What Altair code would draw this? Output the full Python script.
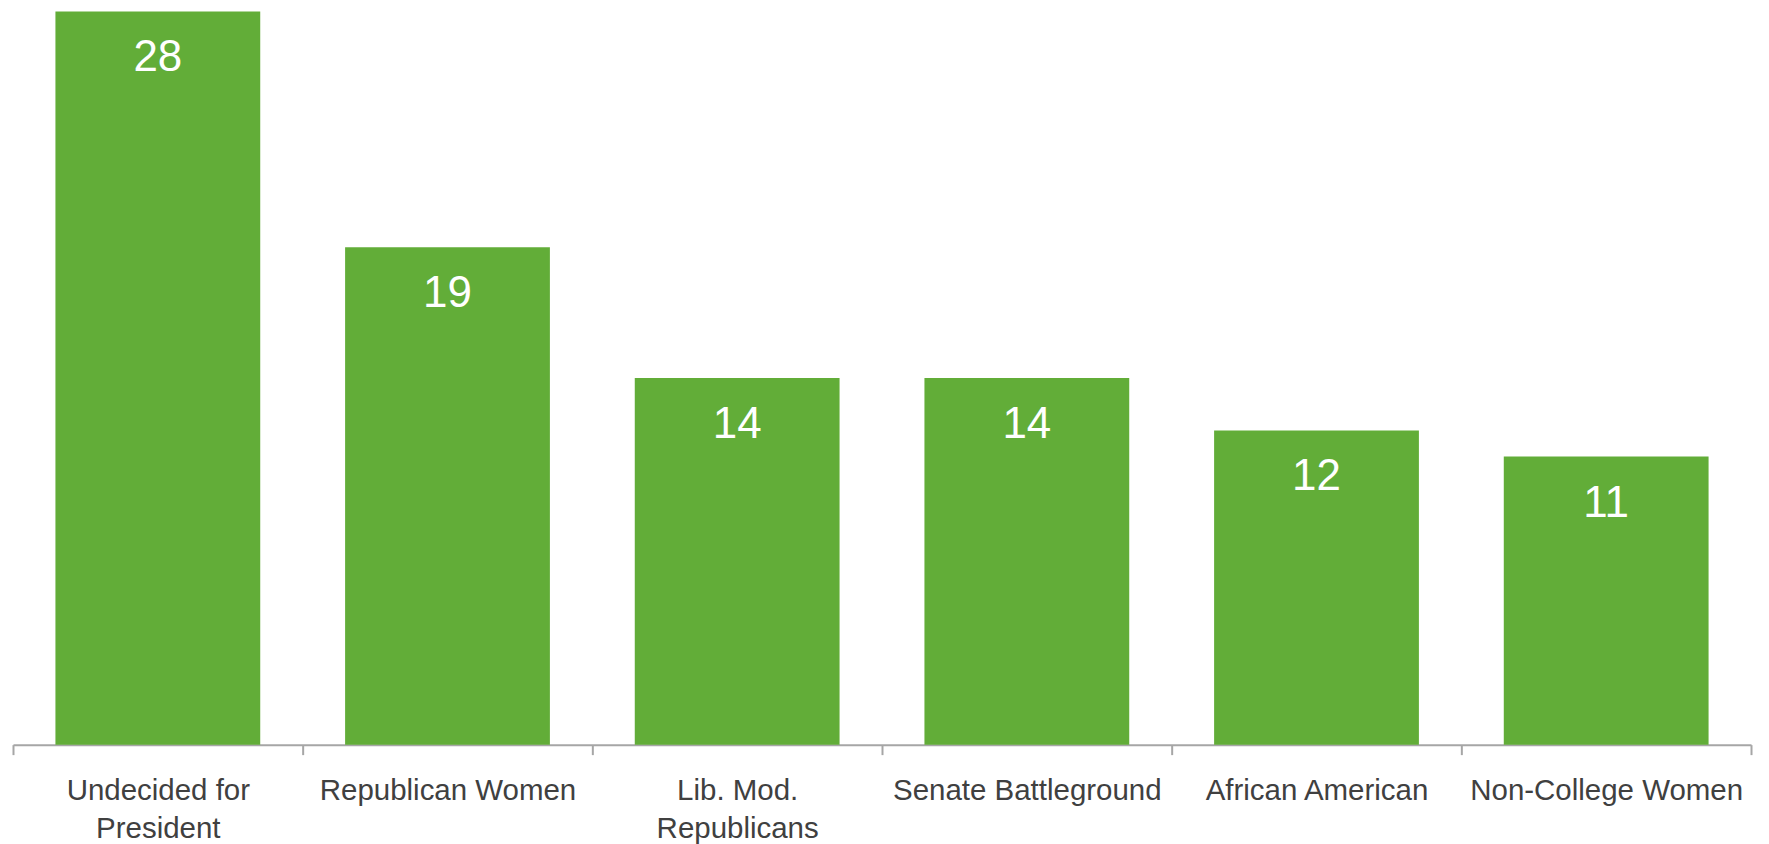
import altair as alt
import pandas as pd

categories = ["Undecided for|President", "Republican Women", "Lib. Mod.|Republicans",
              "Senate Battleground", "African American", "Non-College Women"]
values = [28, 19, 14, 14, 12, 11]

df = pd.DataFrame({"group": categories, "value": values})

GREEN = "#62AD38"

x = alt.X("group:N", sort=None, title=None,
          scale=alt.Scale(paddingInner=0, paddingOuter=0),
          axis=alt.Axis(labelExpr="split(datum.label, '|')", labelAngle=0,
                        labelFont="Liberation Sans", labelFontSize=29.5,
                        labelColor="#404040", labelPadding=22,
                        labelLineHeight=38, labelBaseline="top",
                        tickBand="extent", tickSize=10, tickColor="#A6A6A6",
                        tickWidth=2, domainColor="#A6A6A6", domainWidth=2,
                        labelLimit=400))
y = alt.Y("value:Q", title=None, axis=None, scale=alt.Scale(domain=[0, 28], nice=False))

bars = alt.Chart(df).mark_bar(color=GREEN, width={"band": 0.707}).encode(x=x, y=y)
text = alt.Chart(df).mark_text(color="white", font="Liberation Sans", fontSize=44,
                               baseline="middle", dy=47).encode(
    x=x, y=y, text="value:Q")

chart = (bars + text).properties(
    width=1740, height=734,
    autosize=alt.AutoSizeParams(type="none"),
    padding={"left": 5, "top": 3, "right": 10, "bottom": 104},
).configure_view(stroke=None, strokeWidth=0)

chart.save("out.html", embed_options={"renderer": "svg", "actions": False})
